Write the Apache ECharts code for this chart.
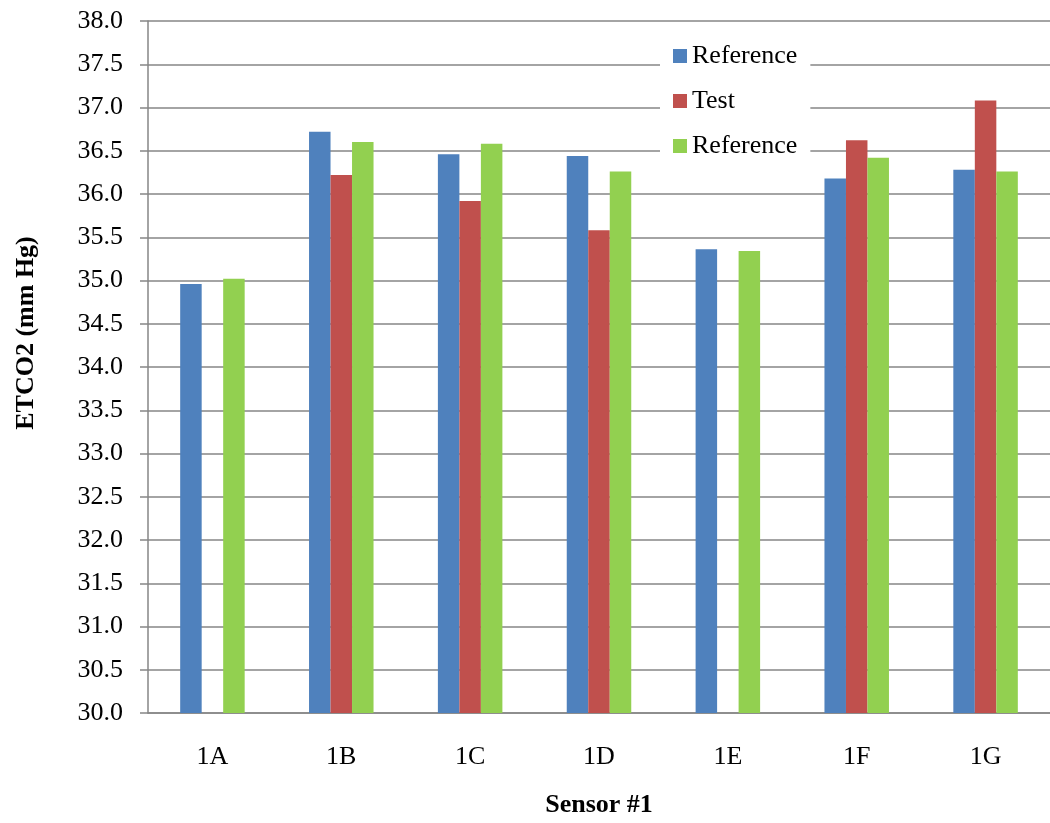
<!DOCTYPE html>
<html>
<head>
<meta charset="utf-8">
<script src="https://cdn.jsdelivr.net/npm/echarts@6/dist/echarts.min.js"></script>
<style>
  html, body { margin: 0; padding: 0; background: #fff; }
  #chart { width: 1050px; height: 823px; }
</style>
</head>
<body>
<div id="chart"></div>
<script>
// ETCO2 readings per sensor position
const categories = ['1A', '1B', '1C', '1D', '1E', '1F', '1G'];
const reference1 = [34.96, 36.72, 36.46, 36.44, 35.36, 36.18, 36.28];
const test = [null, 36.22, 35.92, 35.58, null, 36.62, 37.08];
const reference2 = [35.02, 36.60, 36.58, 36.26, 35.34, 36.42, 36.26];
const seriesNames = ['Reference', 'Test', 'Reference '];
const seriesColors = ['#4F81BD', '#C0504D', '#92D050'];

const font = 'Liberation Serif, Times New Roman, serif';
const fs = 26;
const chart = echarts.init(document.getElementById('chart'));

const values = [reference1, test, reference2];
chart.setOption({
  animation: false,
  backgroundColor: '#fff',
  textStyle: { fontFamily: font, color: '#000' },
  grid: { left: 148, top: 21, bottom: 106, width: 915, containLabel: false },
  legend: {
    orient: 'vertical',
    left: 660,
    top: 35,
    padding: [8, 13, 8, 13],
    backgroundColor: '#fff',
    itemWidth: 14,
    itemHeight: 14,
    itemGap: 19,
    icon: 'rect',
    data: seriesNames,
    formatter: n => n.trim(),
    textStyle: { fontFamily: font, fontSize: fs, color: '#000', lineHeight: 26 }
  },
  xAxis: {
    type: 'category',
    data: categories,
    name: 'Sensor #1',
    nameLocation: 'middle',
    nameGap: 79,
    nameTextStyle: { fontFamily: font, fontSize: fs, fontWeight: 'bold', color: '#000' },
    axisLine: { lineStyle: { color: '#868686', width: 1.5 } },
    axisTick: { show: false },
    axisLabel: { fontFamily: font, fontSize: fs, color: '#000', margin: 31 }
  },
  yAxis: {
    type: 'value',
    min: 30,
    max: 38,
    interval: 0.5,
    name: 'ETCO2 (mm Hg)',
    nameLocation: 'middle',
    nameRotate: 90,
    nameGap: 109,
    nameTextStyle: { fontFamily: font, fontSize: fs, fontWeight: 'bold', color: '#000', padding: [0, 0, 0, 68] },
    axisLine: { show: true, lineStyle: { color: '#868686', width: 1.5 } },
    axisTick: { show: true, inside: false, length: 8, lineStyle: { color: '#868686', width: 1.5 } },
    axisLabel: { fontFamily: font, fontSize: fs, color: '#000', margin: 25, formatter: v => v.toFixed(1) },
    splitLine: { show: true, lineStyle: { color: '#868686', width: 1.5 } }
  },
  series: values.map((vals, i) => ({
    name: seriesNames[i],
    type: 'bar',
    data: vals,
    barWidth: 21.5,
    barGap: '0%',
    itemStyle: { color: seriesColors[i] }
  }))
});
</script>
</body>
</html>
